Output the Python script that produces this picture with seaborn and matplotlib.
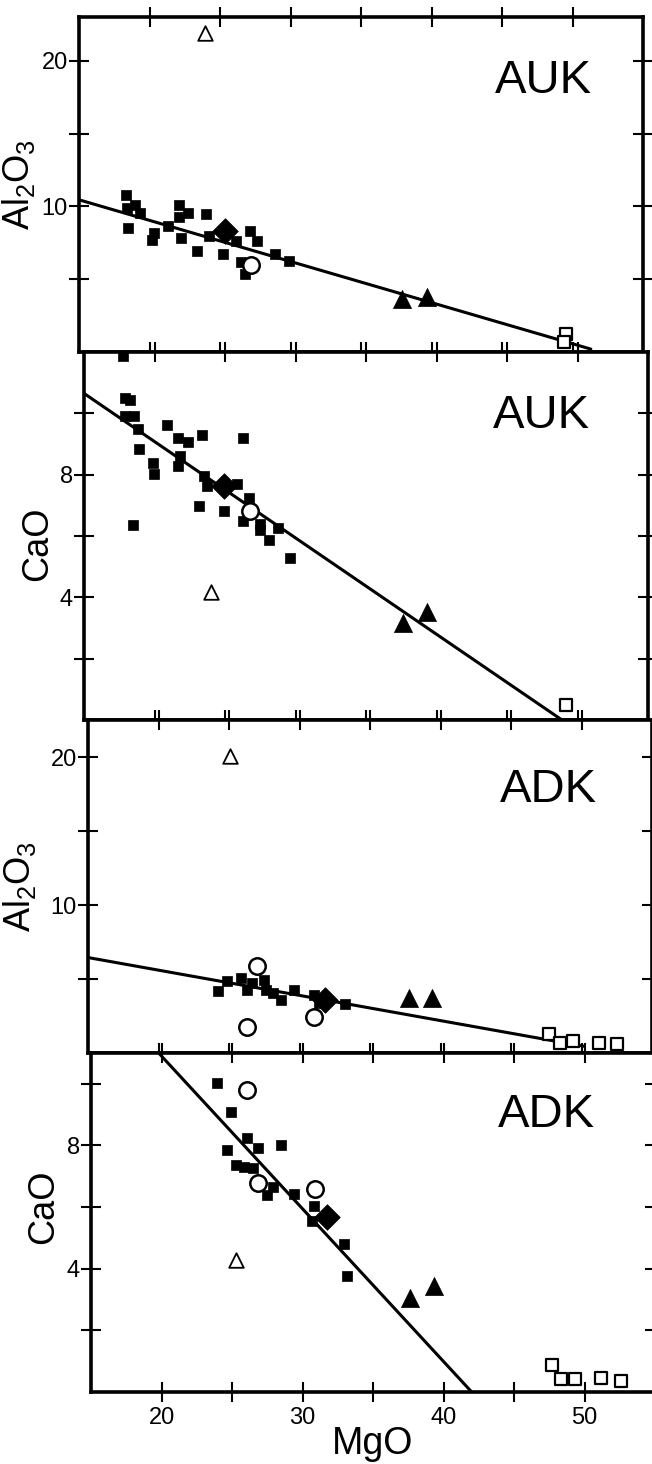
import matplotlib
matplotlib.use("Agg")
import matplotlib.pyplot as plt
import seaborn as sns
import pandas as pd

# ---------------- data (MgO vs oxide, wt%) ----------------
# Panel 1: AUK Al2O3
auk_al_sq_mgo = [18.3, 18.5, 18.4, 19.0, 19.3, 20.2, 20.3, 21.3, 22.1, 22.1, 22.2, 22.7,
                 23.4, 24.0, 24.2, 25.2, 26.1, 26.5, 26.8, 27.1, 27.6, 28.9, 29.9]
auk_al_sq_val = [10.75, 8.5, 9.9, 10.1, 9.55, 7.7, 8.2, 8.65, 10.1, 9.3, 7.85, 9.55,
                 6.95, 9.45, 7.95, 6.7, 7.6, 6.15, 5.35, 8.3, 7.6, 6.7, 6.25]
auk_al_dia = ([25.35], [8.3])
auk_al_ocirc = ([27.2], [6.0])
auk_al_tri = ([37.9, 39.7], [3.65, 3.75])
auk_al_osq = ([49.55, 49.4], [1.25, 0.68])
auk_al_otri = ([23.95], [21.9])
auk_al_line = ([15.0, 51.3], [10.45, 0.2])

# Panel 2: AUK CaO
auk_ca_sq_mgo = [17.8, 17.9, 18.25, 17.9, 18.55, 18.8, 18.9, 19.9, 19.95, 18.45, 20.9, 21.65,
                 22.4, 21.8, 21.7, 23.35, 23.5, 23.7, 23.15, 24.9, 25.85, 26.3, 26.25, 26.7,
                 27.45, 27.5, 28.1, 28.75, 29.6]
auk_ca_sq_val = [11.87, 10.5, 10.43, 9.9, 9.9, 9.5, 8.85, 8.38, 8.02, 6.36, 9.62, 9.2,
                 9.05, 8.6, 8.27, 9.28, 7.95, 7.62, 6.97, 6.8, 7.68, 9.2, 6.5, 7.24,
                 6.38, 6.18, 5.86, 6.27, 5.28]
auk_ca_dia = ([24.9], [7.62])
auk_ca_ocirc = ([26.8], [6.8])
auk_ca_tri = ([37.6, 39.35], [3.16, 3.51])
auk_ca_osq = ([49.2], [0.49])
auk_ca_otri = ([24.0], [4.16])
auk_ca_line = ([15.0, 48.9], [10.65, 0.0])

# Panel 3: ADK Al2O3
adk_al_sq_mgo = [24.2, 24.85, 25.85, 26.25, 26.6, 27.5, 27.6, 28.1, 28.7, 29.6, 31.05, 31.35, 33.2]
adk_al_sq_val = [4.2, 4.88, 5.1, 4.27, 4.72, 4.94, 4.27, 4.04, 3.6, 4.27, 3.93, 3.37, 3.3]
adk_al_dia = ([31.8], [3.6])
adk_al_ocirc = ([27.0, 26.3, 31.05], [5.9, 1.73, 2.4])
adk_al_tri = ([37.8, 39.4], [3.7, 3.7])
adk_al_osq = ([47.7, 48.45, 49.4, 51.25, 52.55], [1.28, 0.67, 0.79, 0.67, 0.61])
adk_al_otri = ([25.1], [20.1])
adk_al_line = ([15.0, 50.2], [6.45, 0.45])

# Panel 4: ADK CaO
adk_ca_sq_mgo = [23.95, 24.9, 26.05, 26.85, 28.45, 24.65, 25.25, 25.85, 26.5, 27.45, 27.9,
                 29.4, 30.8, 30.7, 32.95, 33.15]
adk_ca_sq_val = [10.04, 9.09, 8.24, 7.93, 8.02, 7.86, 7.37, 7.31, 7.26, 6.38, 6.66,
                 6.44, 6.05, 5.56, 4.8, 3.76]
adk_ca_dia = ([31.75], [5.67])
adk_ca_ocirc = ([26.05, 26.85, 30.9], [9.8, 6.77, 6.6])
adk_ca_tri = ([37.6, 39.35], [3.05, 3.43])
adk_ca_osq = ([47.7, 48.3, 49.35, 51.2, 52.6], [0.86, 0.43, 0.43, 0.45, 0.35])
adk_ca_otri = ([25.25], [4.28])
adk_ca_line = ([19.8, 42.0], [11.0, 0.0])

panel_names = ["AUK", "AUK", "ADK", "ADK"]
ylabels = [r"Al$_2$O$_3$", "CaO", r"Al$_2$O$_3$", "CaO"]
ylims = [(0, 23), (0, 12), (0, 22.5), (0, 11)]
al_yticks = [5, 10, 15, 20]
al_yticklabels = ["", "10", "", "20"]
ca_yticks = [2, 4, 6, 8, 10]
ca_yticklabels = ["", "4", "", "8", ""]
xticks = [20, 25, 30, 35, 40, 45, 50]
xticklabels = ["20", "", "30", "", "40", "", "50"]
xlim = (15, 55)

# ---------------- style ----------------
sns.set_theme(style="ticks")
plt.rcParams["font.family"] = ["Liberation Sans", "DejaVu Sans"]
plt.rcParams["mathtext.default"] = "regular"
plt.rcParams["text.color"] = "black"
plt.rcParams["axes.labelcolor"] = "black"
plt.rcParams["xtick.color"] = "black"
plt.rcParams["ytick.color"] = "black"

W, H = 652, 1464
fig = plt.figure(figsize=(W / 100, H / 100), dpi=100)
fig.patch.set_facecolor("white")

# (left px, top px, bottom px) for each panel; width in px
layout = [(79, 17, 352), (84, 352, 720), (88, 720, 1053), (91, 1053, 1392)]
width_px = 564
label_x = [-0.074, -0.052, -0.088, -0.053]
label_y = [0.50, 0.48, 0.50, 0.546]
name_pos = [(0.823, 0.773), (0.812, 0.793), (0.816, 0.754), (0.807, 0.782)]

panels = [
    (auk_al_sq_mgo, auk_al_sq_val, auk_al_dia, auk_al_ocirc, auk_al_tri, auk_al_osq, auk_al_otri, auk_al_line),
    (auk_ca_sq_mgo, auk_ca_sq_val, auk_ca_dia, auk_ca_ocirc, auk_ca_tri, auk_ca_osq, auk_ca_otri, auk_ca_line),
    (adk_al_sq_mgo, adk_al_sq_val, adk_al_dia, adk_al_ocirc, adk_al_tri, adk_al_osq, adk_al_otri, adk_al_line),
    (adk_ca_sq_mgo, adk_ca_sq_val, adk_ca_dia, adk_ca_ocirc, adk_ca_tri, adk_ca_osq, adk_ca_otri, adk_ca_line),
]

for i, (sqx, sqy, dia, ocirc, tri, osq, otri, line) in enumerate(panels):
    left, top, bottom = layout[i]
    ax = fig.add_axes([left / W, 1 - bottom / H, width_px / W, (bottom - top) / H])
    ax.set_facecolor("white")

    # regression line
    sns.lineplot(x=line[0], y=line[1], ax=ax, color="black", linewidth=2.2, zorder=2)

    # filled squares
    sns.scatterplot(x=sqx, y=sqy, ax=ax, marker="s", s=50, color="black",
                    edgecolor="black", linewidth=0.5, zorder=3)
    # filled triangles
    sns.scatterplot(x=tri[0], y=tri[1], ax=ax, marker="^", s=170, color="black",
                    edgecolor="black", linewidth=0.5, zorder=3)
    # open circles
    sns.scatterplot(x=ocirc[0], y=ocirc[1], ax=ax, marker="o", s=140, color="white",
                    edgecolor="black", linewidth=1.8, zorder=4)
    # open squares
    sns.scatterplot(x=osq[0], y=osq[1], ax=ax, marker="s", s=80, color="white",
                    edgecolor="black", linewidth=1.6, zorder=4)
    # open triangle
    sns.scatterplot(x=otri[0], y=otri[1], ax=ax, marker="^", s=110, color="white",
                    edgecolor="black", linewidth=1.3, zorder=4)
    # filled diamond
    sns.scatterplot(x=dia[0], y=dia[1], ax=ax, marker="D", s=170, color="black",
                    edgecolor="black", linewidth=0.5, zorder=5)

    ax.set_xlim(*xlim)
    ax.set_ylim(*ylims[i])
    ax.set_xticks(xticks)
    if i % 2 == 0:
        ax.set_yticks(al_yticks)
        ax.set_yticklabels(al_yticklabels)
    else:
        ax.set_yticks(ca_yticks)
        ax.set_yticklabels(ca_yticklabels)

    if i == 3:
        ax.set_xticklabels(xticklabels)
        ax.set_xlabel("MgO", fontsize=27, labelpad=-2, color="black")
    else:
        ax.set_xticklabels([])
        ax.set_xlabel("")

    ax.tick_params(axis="both", which="major", direction="inout", length=14, width=1.5,
                   top=True, right=True, labelsize=17, colors="black")
    ax.tick_params(axis="y", pad=1)
    ax.tick_params(axis="x", pad=4)

    for sp in ax.spines.values():
        sp.set_visible(True)
        sp.set_linewidth(2.6)
        sp.set_color("black")

    ax.set_ylabel(ylabels[i], fontsize=26, color="black")
    ax.yaxis.set_label_coords(label_x[i], label_y[i])

    nx, ny = name_pos[i]
    ax.text(nx, ny, panel_names[i], transform=ax.transAxes, fontsize=34,
            ha="center", va="baseline", color="black")

fig.savefig("out.png", dpi=100, facecolor="white")
